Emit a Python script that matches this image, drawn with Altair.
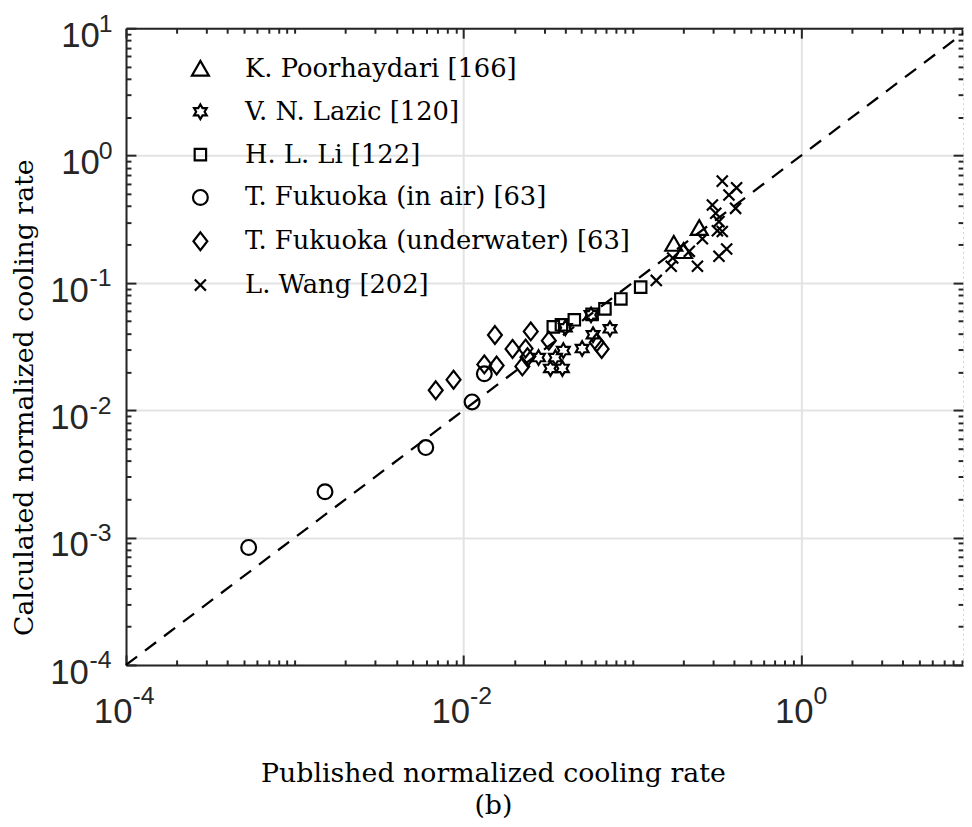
import altair as alt
import pandas as pd

# ---------------- data ----------------
SERIES = [
    "K. Poorhaydari [166]",
    "V. N. Lazic [120]",
    "H. L. Li [122]",
    "T. Fukuoka (in air) [63]",
    "T. Fukuoka (underwater) [63]",
    "L. Wang [202]",
]

poor_x = [0.176, 0.201, 0.249]
poor_y = [0.202, 0.177, 0.269]

lazic_x = [0.0278, 0.0327, 0.0385, 0.0350, 0.0390, 0.0401, 0.0504, 0.0585, 0.0737, 0.0569]
lazic_y = [0.0259, 0.0213, 0.0213, 0.0259, 0.0294, 0.0444, 0.0305, 0.0392, 0.0436, 0.0561]

li_x = [0.0340, 0.0380, 0.0453, 0.0577, 0.0688, 0.0855, 0.112]
li_y = [0.0452, 0.0469, 0.0513, 0.0566, 0.0625, 0.0748, 0.0927]

air_x = [5.33e-4, 1.51e-3, 5.97e-3, 1.123e-2, 1.327e-2]
air_y = [8.37e-4, 2.29e-3, 5.09e-3, 1.163e-2, 1.936e-2]

water_x = [6.84e-3, 8.72e-3, 1.327e-2, 1.534e-2, 1.57e-2, 1.95e-2, 2.23e-2,
           2.39e-2, 2.50e-2, 2.33e-2, 3.20e-2, 6.15e-2, 6.58e-2]
water_y = [1.435e-2, 1.738e-2, 2.29e-2, 3.90e-2, 2.246e-2, 3.03e-2, 2.21e-2,
           2.61e-2, 4.16e-2, 3.05e-2, 3.52e-2, 3.41e-2, 3.03e-2]

wang_x = [0.1386, 0.1698, 0.1734, 0.243, 0.260, 0.298, 0.312, 0.326, 0.319,
          0.341, 0.326, 0.362, 0.341, 0.4145, 0.3735, 0.409, 0.2175]
wang_y = [0.1046, 0.1352, 0.157, 0.1352, 0.222, 0.409, 0.352, 0.303, 0.2566,
          0.2533, 0.1618, 0.1845, 0.630, 0.558, 0.4897, 0.385, 0.177]

x_tick_labels_major = [1e-4, 1e-2, 1.0]
y_tick_labels_major = [1e-4, 1e-3, 1e-2, 1e-1, 1.0, 10.0]

X_MIN, X_MAX = 1e-4, 9.1
Y_MIN, Y_MAX = 1e-4, 10.0

# ---------------- tables ----------------
rows = []
for name, xs, ys in zip(SERIES,
                        [poor_x, lazic_x, li_x, air_x, water_x, wang_x],
                        [poor_y, lazic_y, li_y, air_y, water_y, wang_y]):
    for a, b in zip(xs, ys):
        rows.append({"x": a, "y": b, "source": name})
df = pd.DataFrame(rows)

ref_df = pd.DataFrame({"x": [X_MIN, X_MAX], "y": [X_MIN, X_MAX]})

x_minor = [k * 10.0 ** e for e in range(-4, 1) for k in range(1, 10) if k * 10.0 ** e <= X_MAX]
y_minor = [k * 10.0 ** e for e in range(-4, 1) for k in range(1, 10)] + [10.0]

# ---------------- styling ----------------
W, H = 844, 642
AX = "#262626"
GRID = "#e3e3e3"
LABEL_FONT = "Liberation Sans"
SERIF = "DejaVu Serif"

is_x_major = "abs(log(datum.value)/LN10/2 - round(log(datum.value)/LN10/2)) < 0.001"
is_y_major = "abs(log(datum.value)/LN10 - round(log(datum.value)/LN10)) < 0.001"
exp_expr = "'' + round(log(datum.value)/LN10)"

TRI = "M0,-0.9L0.95,0.75L-0.95,0.75Z"
HEX = ("M0,-0.82L0.237,-0.41L0.71,-0.41L0.473,0L0.71,0.41L0.237,0.41L0,0.82"
       "L-0.237,0.41L-0.71,0.41L-0.473,0L-0.71,-0.41L-0.237,-0.41Z")
SQ = "M-0.64,-0.64L0.64,-0.64L0.64,0.64L-0.64,0.64Z"
CIR = "M0.83,0A0.83,0.83 0 1,1 -0.83,0A0.83,0.83 0 1,1 0.83,0Z"
DIA = "M0,-1L0.78,0L0,1L-0.78,0Z"
CROSS = "M-0.62,-0.62L0.62,0.62M-0.62,0.62L0.62,-0.62"
SHAPES = [TRI, HEX, SQ, CIR, DIA, CROSS]

xscale = alt.Scale(type="log", domain=[X_MIN, X_MAX], nice=False)
yscale = alt.Scale(type="log", domain=[Y_MIN, Y_MAX], nice=False)

# ---------------- axes ----------------
x_main = alt.Axis(
    orient="bottom", values=x_tick_labels_major, labelExpr="'10'",
    labelFont=LABEL_FONT, labelFontSize=35, labelColor=AX,
    labelAlign="right", labelBaseline="alphabetic", labelPadding=58,
    labelOffset={"condition": {"test": "datum.value >= 1", "value": 12}, "value": 6},
    labelFlush=False, labelOverlap=False, labelBound=False,
    ticks=False, tickSize=0, grid=True, gridColor=GRID, gridWidth=2,
    domain=True, domainColor=AX, domainWidth=2,
    title=["Published normalized cooling rate", "(b)"],
    titleFont=SERIF, titleFontSize=27, titleFontWeight="normal", titleColor="black",
    titleX=370, titleY=118, titleAlign="center", titleBaseline="alphabetic",
    titleLineHeight=32, titleAngle=0,
)
x_exp = alt.Axis(
    orient="bottom", values=x_tick_labels_major, labelExpr=exp_expr,
    labelFont=LABEL_FONT, labelFontSize=25, labelColor=AX,
    labelAlign="left", labelBaseline="alphabetic", labelPadding=39,
    labelOffset={"condition": {"test": "datum.value >= 1", "value": 12}, "value": 6},
    labelFlush=False, labelOverlap=False, labelBound=False,
    ticks=False, tickSize=0, grid=False, domain=False, title=None,
)
x_tick_bottom = alt.Axis(
    orient="top", offset=-H, values=x_minor, labels=False, grid=False, domain=False,
    ticks=True, tickColor=AX, tickWidth=2,
    tickSize={"condition": {"test": is_x_major, "value": 10}, "value": 5}, title=None,
)
x_tick_top = alt.Axis(
    orient="bottom", offset=-H, values=x_minor, labels=False, grid=False,
    domain=True, domainColor=AX, domainWidth=2,
    ticks=True, tickColor=AX, tickWidth=2,
    tickSize={"condition": {"test": is_x_major, "value": 10}, "value": 5}, title=None,
)

y_main = alt.Axis(
    orient="left", values=y_tick_labels_major, labelExpr="'10'",
    labelFont=LABEL_FONT, labelFontSize=35, labelColor=AX,
    labelAlign="right", labelBaseline="alphabetic",
    labelPadding={"condition": {"test": "datum.value >= 1", "value": 27}, "value": 38},
    labelOffset=18.5, labelFlush=False, labelOverlap=False, labelBound=False,
    ticks=False, tickSize=0, grid=True, gridColor=GRID, gridWidth=2,
    domain=True, domainColor=AX, domainWidth=2,
    title="Calculated normalized cooling rate",
    titleFont=SERIF, titleFontSize=27, titleFontWeight="normal", titleColor="black",
    titleX=-94.5, titleY=372, titleAlign="center", titleBaseline="alphabetic",
    titleAngle=270,
)
y_exp = alt.Axis(
    orient="left", values=y_tick_labels_major, labelExpr=exp_expr,
    labelFont=LABEL_FONT, labelFontSize=25, labelColor=AX,
    labelAlign="right", labelBaseline="alphabetic",
    labelPadding={"condition": {"test": "datum.value >= 1", "value": 14}, "value": 15},
    labelOffset=3,
    labelFlush=False, labelOverlap=False, labelBound=False,
    ticks=False, tickSize=0, grid=False, domain=False, title=None,
)
y_tick_left = alt.Axis(
    orient="right", offset=-W, values=y_minor, labels=False, grid=False, domain=False,
    ticks=True, tickColor=AX, tickWidth=2,
    tickSize={"condition": {"test": is_y_major, "value": 10}, "value": 5}, title=None,
)
y_tick_right = alt.Axis(
    orient="left", offset=-W, values=y_minor, labels=False, grid=False,
    domain=True, domainColor="#cfcfcf", domainWidth=1, domainDash=[2, 3],
    ticks=True, tickColor=AX, tickWidth=2,
    tickSize={"condition": {"test": is_y_major, "value": 10}, "value": 5}, title=None,
)

# ---------------- layers ----------------
ref_line = alt.Chart(ref_df).mark_line(
    color="black", strokeWidth=2.3, strokeDash=[14, 10]
).encode(
    x=alt.X("x:Q", scale=xscale, axis=x_main),
    y=alt.Y("y:Q", scale=yscale, axis=y_main),
)

def guide_layer(ax_x, ax_y):
    return alt.Chart(ref_df).mark_line(opacity=0).encode(
        x=alt.X("x:Q", scale=xscale, axis=ax_x),
        y=alt.Y("y:Q", scale=yscale, axis=ax_y),
    )

g_exp = guide_layer(x_exp, y_exp)
g_in1 = guide_layer(x_tick_bottom, y_tick_left)
g_in2 = guide_layer(x_tick_top, y_tick_right)

points = alt.Chart(df).mark_point(
    filled=False, color="black", strokeWidth=2.2, size=324, opacity=1
).encode(
    x=alt.X("x:Q", scale=xscale, axis=None),
    y=alt.Y("y:Q", scale=yscale, axis=None),
    shape=alt.Shape(
        "source:N",
        scale=alt.Scale(domain=SERIES, range=SHAPES),
        legend=alt.Legend(
            title=None, orient="none", legendX=62, legendY=28, padding=0,
            labelFont=SERIF, labelFontSize=26, labelColor="black", labelLimit=0,
            labelOffset=32, rowPadding=17.2, symbolSize=324, symbolStrokeWidth=2.2,
            symbolStrokeColor="black", symbolFillColor="transparent", symbolOpacity=1,
        ),
    ),
)

chart = alt.layer(ref_line, g_exp, g_in1, g_in2, points).resolve_axis(
    x="independent", y="independent"
).properties(
    width=W, height=H,
    padding={"left": 119, "top": 17, "right": 1, "bottom": 156},
    autosize=alt.AutoSizeParams(type="none"),
    background="white",
).configure_view(stroke="transparent")

chart.save("out.html", embed_options={"renderer": "svg", "actions": False})
